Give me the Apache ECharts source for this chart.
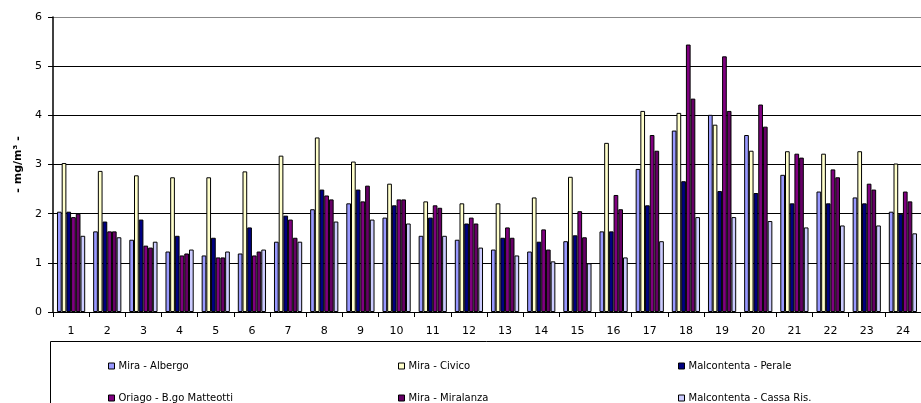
<!DOCTYPE html>
<html>
<head>
<meta charset="utf-8">
<script src="https://cdn.jsdelivr.net/npm/echarts@6/dist/echarts.min.js"></script>
<style>
  html, body { margin: 0; padding: 0; background: #fff; }
  #chart { width: 921px; height: 403px; }
</style>
</head>
<body>
<div id="chart"></div>
<script>
// Hour-of-day categories (1..24)
const categories = ['1','2','3','4','5','6','7','8','9','10','11','12','13','14','15','16','17','18','19','20','21','22','23','24'];

// Station series names
const seriesNames = [
  'Mira - Albergo',
  'Mira - Civico',
  'Malcontenta - Perale',
  'Oriago - B.go Matteotti',
  'Mira - Miralanza',
  'Malcontenta - Cassa Ris.'
];

// Concentrations, mg/m3
const miraAlbergo      = [2.04, 1.64, 1.47, 1.23, 1.15, 1.19, 1.43, 2.09, 2.21, 1.92, 1.55, 1.47, 1.27, 1.23, 1.44, 1.64, 2.91, 3.69, 4.01, 3.60, 2.79, 2.45, 2.33, 2.04];
const miraCivico       = [3.03, 2.87, 2.78, 2.74, 2.74, 2.86, 3.18, 3.55, 3.06, 2.61, 2.25, 2.21, 2.21, 2.33, 2.75, 3.44, 4.09, 4.05, 3.81, 3.28, 3.27, 3.22, 3.27, 3.02];
const malcontentaPerale= [2.04, 1.84, 1.88, 1.55, 1.51, 1.72, 1.96, 2.49, 2.49, 2.17, 1.92, 1.80, 1.51, 1.43, 1.56, 1.64, 2.17, 2.66, 2.46, 2.42, 2.21, 2.21, 2.21, 2.00];
const oriagoMatteotti  = [1.93, 1.64, 1.35, 1.15, 1.11, 1.15, 1.88, 2.37, 2.25, 2.29, 2.17, 1.92, 1.72, 1.68, 2.05, 2.38, 3.60, 5.44, 5.20, 4.22, 3.22, 2.90, 2.61, 2.45];
const miraMiralanza    = [2.00, 1.64, 1.31, 1.19, 1.11, 1.23, 1.51, 2.29, 2.57, 2.29, 2.12, 1.80, 1.51, 1.27, 1.52, 2.09, 3.28, 4.34, 4.09, 3.77, 3.14, 2.74, 2.49, 2.25];
const malcontentaCassa = [1.55, 1.52, 1.43, 1.27, 1.23, 1.27, 1.43, 1.84, 1.88, 1.80, 1.55, 1.31, 1.15, 1.03, 0.99, 1.11, 1.44, 1.93, 1.93, 1.85, 1.72, 1.76, 1.76, 1.60];

// Y axis ticks
const yTicks = [0, 1, 2, 3, 4, 5, 6];

const seriesData = [miraAlbergo, miraCivico, malcontentaPerale, oriagoMatteotti, miraMiralanza, malcontentaCassa];
const seriesColors = ['#9999FF', '#FFFFCC', '#000080', '#800080', '#660066', '#CCCCFF'];

const FONT = 'DejaVu Sans, Verdana, sans-serif';

const chart = echarts.init(document.getElementById('chart'), null, { renderer: 'canvas' });

// Legend laid out as a 3 x 2 table: one legend component per entry
const legendCols = [103, 393, 673];
const legendRows = [356, 388];
function legendEntry(name, idx) {
  return {
    data: [name],
    left: legendCols[idx % 3],
    top: legendRows[Math.floor(idx / 3)],
    itemWidth: 6,
    itemHeight: 6,
    icon: 'rect',
    selectedMode: false,
    itemStyle: { borderColor: '#000', borderWidth: 1 },
    textStyle: { fontFamily: FONT, fontSize: 10, color: '#000', padding: [0, 0, 0, -1] }
  };
}

chart.setOption({
  animation: false,
  backgroundColor: '#ffffff',
  grid: { left: 53, top: 17, width: 878, bottom: 91, containLabel: false },
  legend: seriesNames.map(legendEntry),
  xAxis: {
    type: 'category',
    data: categories,
    axisLine: { lineStyle: { color: '#000', width: 1 } },
    axisTick: { show: true, alignWithLabel: false, length: 5, lineStyle: { color: '#000' } },
    axisLabel: { fontFamily: FONT, fontSize: 11, color: '#000', margin: 14, interval: 0 },
    splitLine: { show: false }
  },
  yAxis: {
    type: 'value',
    min: yTicks[0],
    max: yTicks[yTicks.length - 1],
    interval: 1,
    name: '- mg/m³ -',
    nameLocation: 'middle',
    nameRotate: 90,
    nameGap: 28,
    nameTextStyle: { fontFamily: FONT, fontSize: 11, fontWeight: 'bold', color: '#000' },
    axisLine: { show: true, lineStyle: { color: '#000', width: 1.5 } },
    axisTick: { show: true, length: 5, lineStyle: { color: '#000' } },
    axisLabel: { fontFamily: FONT, fontSize: 11, color: '#000', margin: 11 },
    splitLine: {
      show: true,
      lineStyle: { color: ['#000', '#000', '#000', '#000', '#000', '#000', '#888'], width: 1.2 }
    }
  },
  series: seriesNames.map((name, i) => ({
    name: name,
    type: 'bar',
    data: seriesData[i],
    barGap: '0%',
    barCategoryGap: '22%',
    itemStyle: { color: seriesColors[i], borderColor: '#000', borderWidth: 1 },
    emphasis: { disabled: true }
  })),
  graphic: [
    {
      type: 'rect',
      shape: { x: 50.5, y: 341.5, width: 900, height: 100 },
      style: { fill: 'none', stroke: '#000', lineWidth: 1 },
      silent: true
    }
  ]
});
</script>
</body>
</html>
